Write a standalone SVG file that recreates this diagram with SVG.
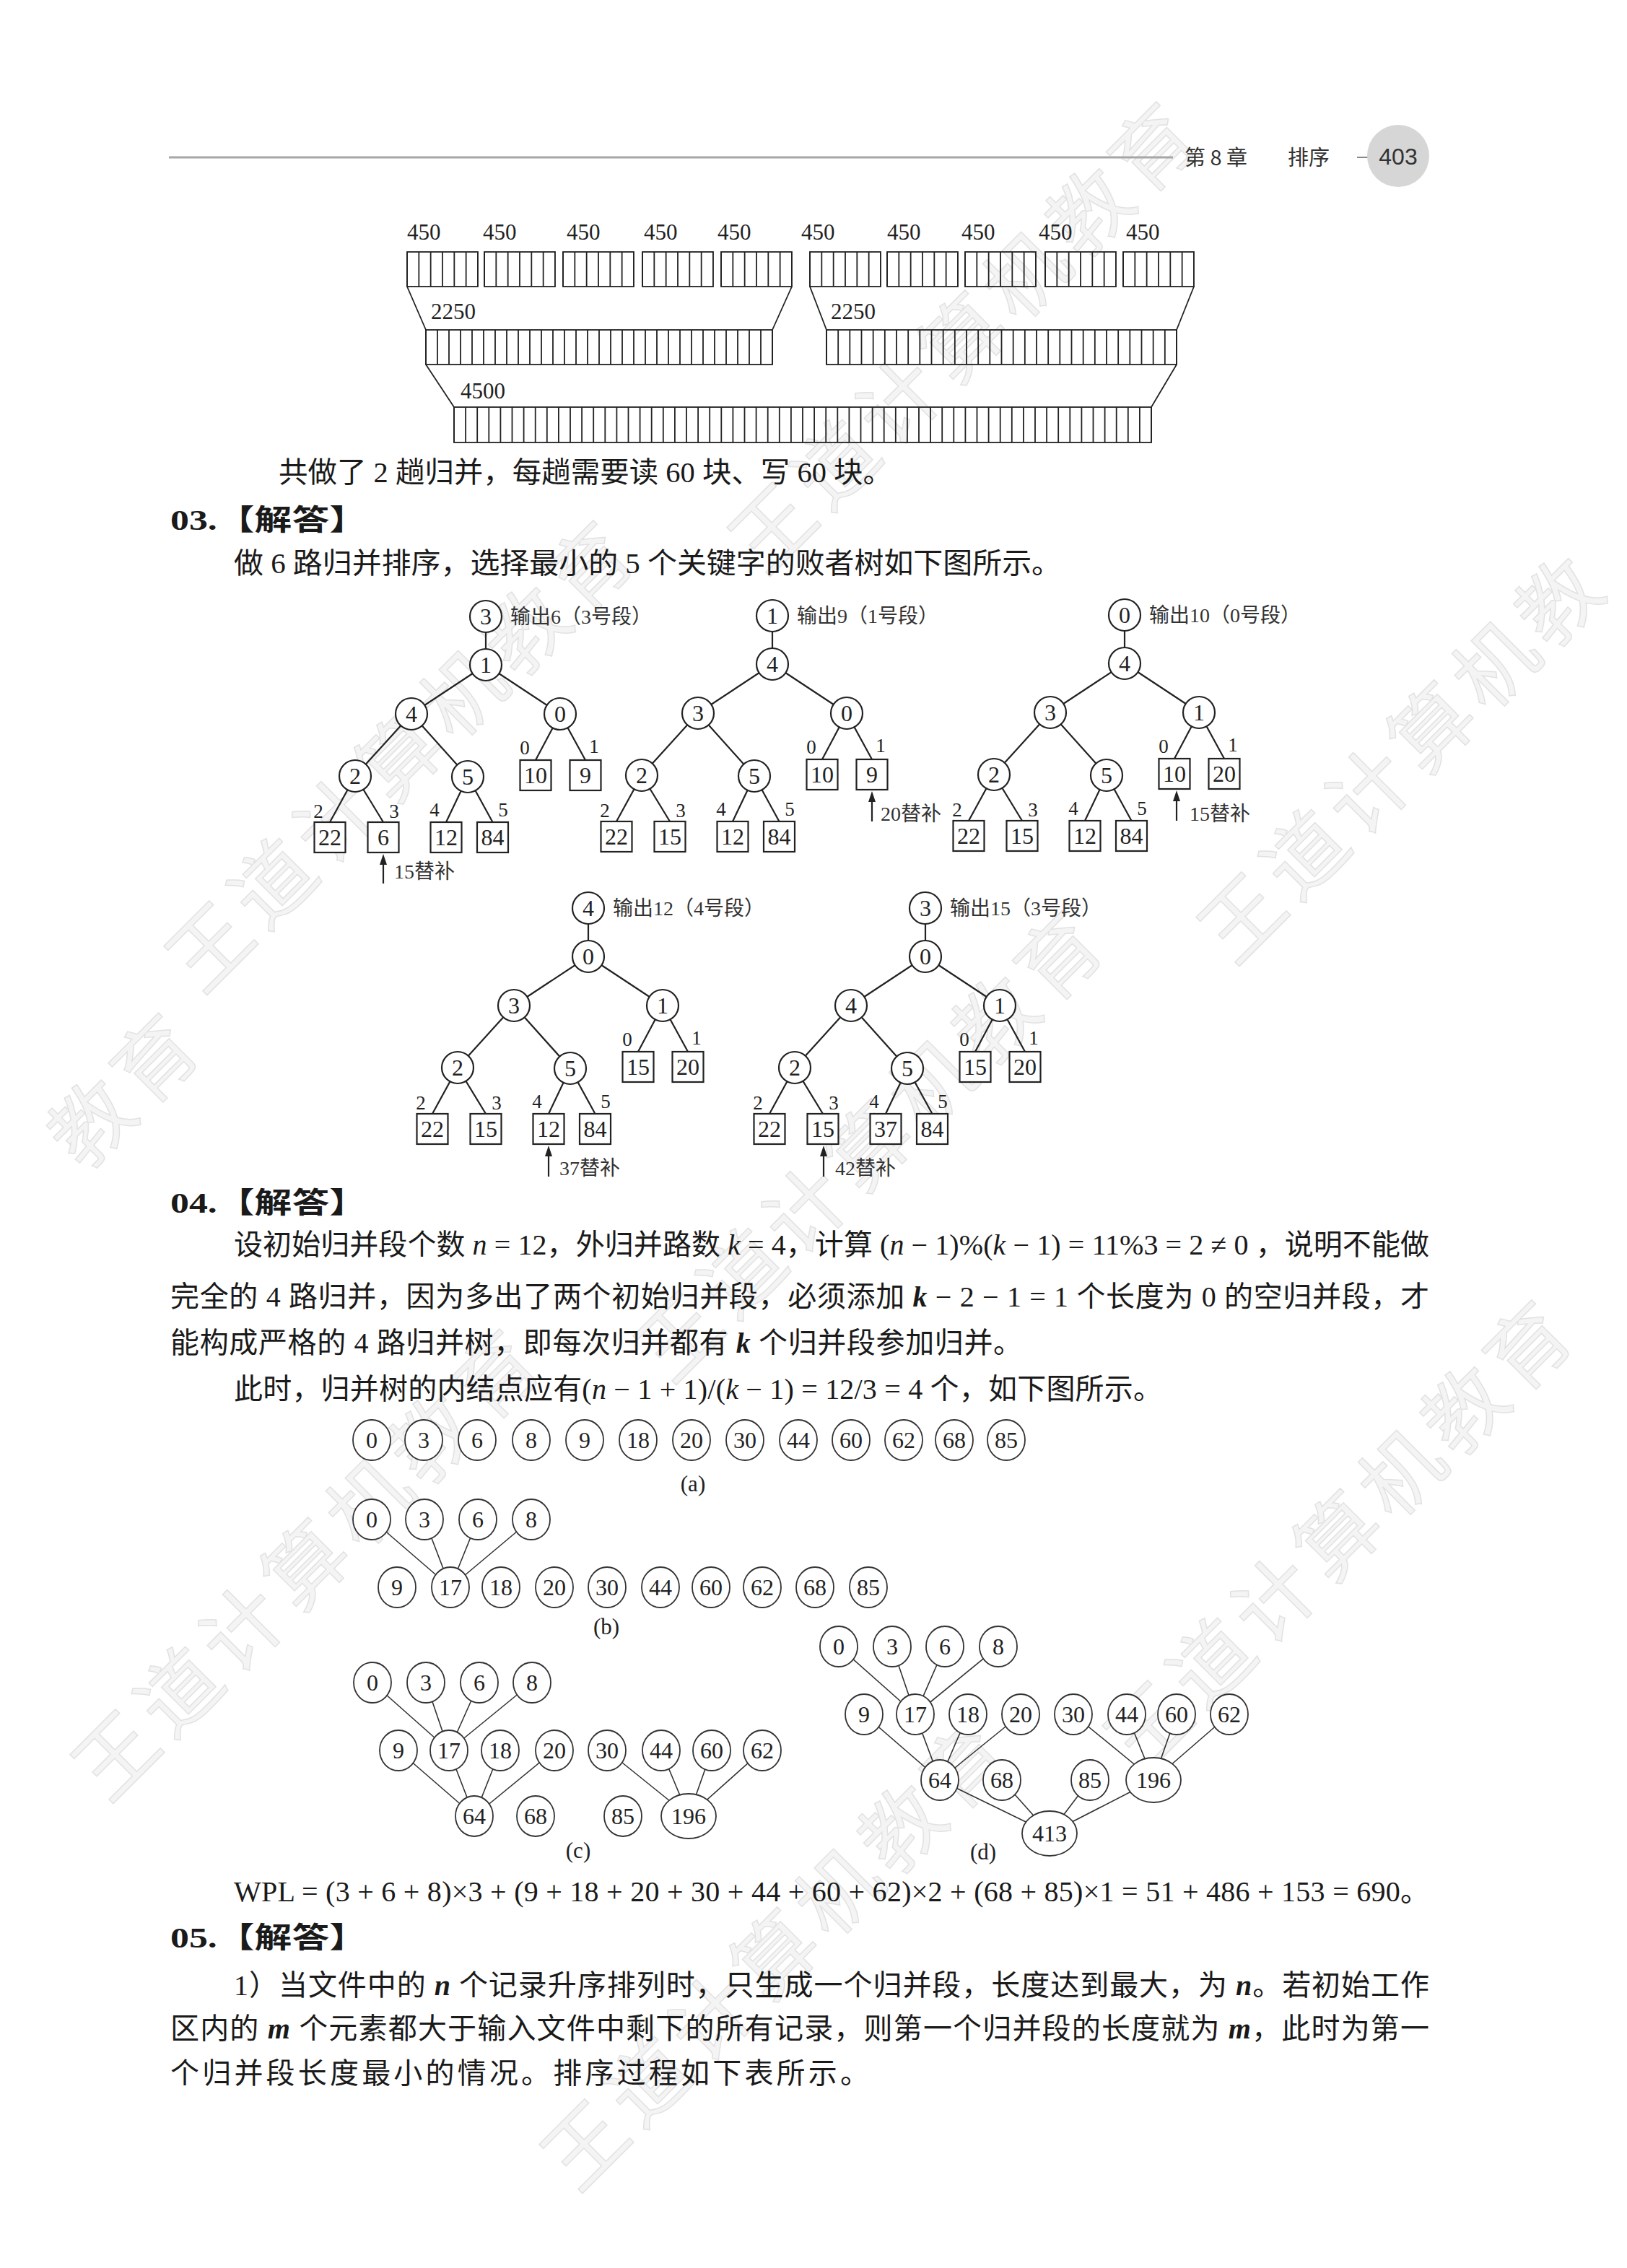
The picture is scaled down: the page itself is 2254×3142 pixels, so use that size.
<svg xmlns="http://www.w3.org/2000/svg" width="2254" height="3142" viewBox="0 0 2254 3142">
<style>
.blk{fill:none;stroke:#222;stroke-width:1.8}
.ln{fill:none;stroke:#222;stroke-width:2.2}
.nd{fill:#fff;stroke:#222;stroke-width:2.2}
.num{font-family:"Liberation Serif",serif;font-size:32px;text-anchor:middle;fill:#222}
.idx{font-family:"Liberation Serif",serif;font-size:27px;text-anchor:middle;fill:#222}
.cap{font-family:"Liberation Serif","Noto Sans CJK SC",serif;font-size:28px;fill:#333}
.lab{font-family:"Liberation Serif",serif;font-size:31px;fill:#222}
.body{font-family:"Liberation Serif","Noto Sans CJK SC",serif;font-size:40px;fill:#1a1a1a}
.hd{font-family:"Noto Sans CJK SC","Liberation Sans",sans-serif;font-size:29px;fill:#333}
.he{fill:none;stroke:#333;stroke-width:1.6}
.hn{fill:#fff;stroke:#333;stroke-width:1.8}
.hv{font-family:"Liberation Serif",serif;font-size:32px;text-anchor:middle;fill:#222}
.it{font-style:italic}
.bi{font-style:italic;font-weight:bold}
.wm{font-family:"Noto Sans CJK SC",sans-serif;font-size:112px;letter-spacing:12px;fill:#f4f4f4;stroke:#e2e2e2;stroke-width:1.5}
</style>
<rect width="2254" height="3142" fill="#fff"/>

<!-- watermarks -->
<g id="watermarks">
<text class="wm" transform="translate(280,1380) rotate(-45)">王道计算机教育</text>
<text class="wm" transform="translate(1060,800) rotate(-45)">王道计算机教育</text>
<text class="wm" transform="translate(930,1920) rotate(-45)">王道计算机教育</text>
<text class="wm" transform="translate(1710,1340) rotate(-45)">王道计算机教</text>
<text class="wm" transform="translate(1580,2460) rotate(-45)">王道计算机教育</text>
<text class="wm" transform="translate(150,2500) rotate(-45)">王道计算机教育</text>
<text class="wm" transform="translate(800,3040) rotate(-45)">王道计算机教育</text>
<text class="wm" transform="translate(116,1624) rotate(-45)">教育</text>
</g>

<!-- header -->
<g id="header">
<line x1="234" y1="218" x2="1625" y2="218" stroke="#a6a6a6" stroke-width="3"/>
<text class="hd" x="1641" y="229">第 8 章</text>
<text class="hd" x="1784" y="229">排序</text>
<line x1="1880" y1="218" x2="1904" y2="218" stroke="#888" stroke-width="2"/>
<circle cx="1937" cy="216" r="43" fill="#d6d6d6"/>
<text x="1937" y="228" text-anchor="middle" font-family="Liberation Sans Narrow,Liberation Sans,sans-serif" font-size="32" fill="#333">403</text>
</g>

<!-- merge block diagram -->
<g id="merge-blocks">
<g>
<text class="lab" x="564" y="332">450</text><text class="lab" x="669" y="332">450</text><text class="lab" x="785" y="332">450</text><text class="lab" x="892" y="332">450</text><text class="lab" x="994" y="332">450</text>
<text class="lab" x="1110" y="332">450</text><text class="lab" x="1229" y="332">450</text><text class="lab" x="1332" y="332">450</text><text class="lab" x="1439" y="332">450</text><text class="lab" x="1560" y="332">450</text>
<text class="lab" x="597" y="442">2250</text><text class="lab" x="1151" y="442">2250</text>
<text class="lab" x="638" y="552">4500</text>
</g>
<g stroke="#222" stroke-width="48" stroke-dasharray="1.8 14.53">
<line x1="563.1" y1="373" x2="662" y2="373"/><line x1="670.1" y1="373" x2="769" y2="373"/><line x1="779.1" y1="373" x2="878" y2="373"/><line x1="889.1" y1="373" x2="988" y2="373"/><line x1="998.1" y1="373" x2="1097" y2="373"/>
<line x1="1121.1" y1="373" x2="1220" y2="373"/><line x1="1228.1" y1="373" x2="1327" y2="373"/><line x1="1336.1" y1="373" x2="1435" y2="373"/><line x1="1447.1" y1="373" x2="1546" y2="373"/><line x1="1555.1" y1="373" x2="1654" y2="373"/>
</g>
<line x1="589.1" y1="481" x2="1071" y2="481" stroke="#222" stroke-width="48" stroke-dasharray="1.8 14.2"/>
<line x1="1144.1" y1="481" x2="1631" y2="481" stroke="#222" stroke-width="48" stroke-dasharray="1.8 14.3667"/>
<line x1="628.1" y1="588.5" x2="1596" y2="588.5" stroke="#222" stroke-width="49" stroke-dasharray="1.8 14.3"/>
<g class="blk">
<rect x="564" y="349" width="98" height="48"/><rect x="671" y="349" width="98" height="48"/><rect x="780" y="349" width="98" height="48"/><rect x="890" y="349" width="98" height="48"/><rect x="999" y="349" width="98" height="48"/>
<rect x="1122" y="349" width="98" height="48"/><rect x="1229" y="349" width="98" height="48"/><rect x="1337" y="349" width="98" height="48"/><rect x="1448" y="349" width="98" height="48"/><rect x="1556" y="349" width="98" height="48"/>
<rect x="590" y="457" width="480" height="48"/><rect x="1145" y="457" width="485" height="48"/>
<rect x="629" y="564" width="966" height="49"/>
<path d="M564,397 L590,457 M1097,397 L1070,457 M1122,397 L1145,457 M1654,397 L1630,457 M590,505 L629,564 M1630,505 L1595,564"/>
</g>
</g>

<!-- body text part 1 -->
<text class="body" x="386" y="668" textLength="850" lengthAdjust="spacingAndGlyphs">共做了 2 趟归并，每趟需要读 60 块、写 60 块。</text>
<text class="body" x="236" y="734" font-weight="bold" textLength="272" lengthAdjust="spacingAndGlyphs">03.【解答】</text>
<text class="body" x="324" y="794" textLength="1146" lengthAdjust="spacingAndGlyphs">做 6 路归并排序，选择最小的 5 个关键字的败者树如下图所示。</text>

<!-- connectors of loser trees and merge trees -->
<g id="connectors">
<g class="ln">
<path transform="translate(673,854)" d="M0,0V67M0,67L-103,135M0,67L103,135M-103,135L-181,221M-103,135L-25,222M103,135L69,199M103,135L138,199M-181,221L-216,285M-181,221L-142,285M-25,222L-55,285M-25,222L9.5,285"/>
<path transform="translate(1070,853)" d="M0,0V67M0,67L-103,135M0,67L103,135M-103,135L-181,221M-103,135L-25,222M103,135L69,199M103,135L138,199M-181,221L-216,285M-181,221L-142,285M-25,222L-55,285M-25,222L9.5,285"/>
<path transform="translate(1558,852)" d="M0,0V67M0,67L-103,135M0,67L103,135M-103,135L-181,221M-103,135L-25,222M103,135L69,199M103,135L138,199M-181,221L-216,285M-181,221L-142,285M-25,222L-55,285M-25,222L9.5,285"/>
<path transform="translate(815,1258)" d="M0,0V67M0,67L-103,135M0,67L103,135M-103,135L-181,221M-103,135L-25,222M103,135L69,199M103,135L138,199M-181,221L-216,285M-181,221L-142,285M-25,222L-55,285M-25,222L9.5,285"/>
<path transform="translate(1282,1258)" d="M0,0V67M0,67L-103,135M0,67L103,135M-103,135L-181,221M-103,135L-25,222M103,135L69,199M103,135L138,199M-181,221L-216,285M-181,221L-142,285M-25,222L-55,285M-25,222L9.5,285"/>
</g>
<g class="he">
<path d="M515,2105L624,2199M588,2105L624,2199M662,2105L624,2199M736,2105L624,2199"/>
<path d="M516,2331L622,2425M590,2331L622,2425M664,2331L622,2425M737,2331L622,2425M552,2425L657,2516M622,2425L657,2516M693,2425L657,2516M768,2425L657,2516M841,2425L954,2516M916,2425L954,2516M986,2425L954,2516M1056,2425L954,2516"/>
<path d="M1162,2281L1268,2375M1236,2281L1268,2375M1309,2281L1268,2375M1383,2281L1268,2375M1197,2375L1302,2466M1268,2375L1302,2466M1341,2375L1302,2466M1414,2375L1302,2466M1487,2375L1598,2466M1561,2375L1598,2466M1630,2375L1598,2466M1703,2375L1598,2466M1302,2466L1454,2540M1388,2466L1454,2540M1510,2466L1454,2540M1598,2466L1454,2540"/>
</g>
</g>

<!-- loser tree 1 -->
<g id="tree1" transform="translate(673,854)">
<g id="t1-n0"><circle class="nd" cx="0" cy="0" r="22"/><text class="num" x="0" y="11">3</text></g>
<g id="t1-n1"><circle class="nd" cx="0" cy="67" r="22"/><text class="num" x="0" y="78">1</text></g>
<g id="t1-n2"><circle class="nd" cx="-103" cy="135" r="22"/><text class="num" x="-103" y="146">4</text></g>
<g id="t1-n3"><circle class="nd" cx="103" cy="135" r="22"/><text class="num" x="103" y="146">0</text></g>
<g id="t1-n4"><circle class="nd" cx="-181" cy="221" r="22"/><text class="num" x="-181" y="232">2</text></g>
<g id="t1-n5"><circle class="nd" cx="-25" cy="222" r="22"/><text class="num" x="-25" y="233">5</text></g>
<g id="t1-s0"><rect class="nd" x="47.5" y="199" width="43" height="42"/><text class="num" x="69" y="231">10</text></g>
<g id="t1-s1"><rect class="nd" x="116.5" y="199" width="43" height="42"/><text class="num" x="138" y="231">9</text></g>
<g id="t1-s2"><rect class="nd" x="-237.5" y="285" width="43" height="42"/><text class="num" x="-216" y="317">22</text></g>
<g id="t1-s3"><rect class="nd" x="-163.5" y="285" width="43" height="42"/><text class="num" x="-142" y="317">6</text></g>
<g id="t1-s4"><rect class="nd" x="-76.5" y="285" width="43" height="42"/><text class="num" x="-55" y="317">12</text></g>
<g id="t1-s5"><rect class="nd" x="-12" y="285" width="43" height="42"/><text class="num" x="9.5" y="317">84</text></g>
<text class="idx" x="54" y="191">0</text><text class="idx" x="150" y="189">1</text><text class="idx" x="-232" y="279">2</text><text class="idx" x="-127" y="279">3</text><text class="idx" x="-71" y="277">4</text><text class="idx" x="24" y="277">5</text>
<text class="cap" x="34" y="10">输出6（3号段）</text>
<line x1="-142" y1="340" x2="-142" y2="370" stroke="#222" stroke-width="2.2"/><polygon points="-142,329 -147,344 -137,344" fill="#222"/>
<text class="cap" x="-127" y="363">15替补</text>
</g>

<!-- loser tree 2 -->
<g id="tree2" transform="translate(1070,853)">
<g id="t2-n0"><circle class="nd" cx="0" cy="0" r="22"/><text class="num" x="0" y="11">1</text></g>
<g id="t2-n1"><circle class="nd" cx="0" cy="67" r="22"/><text class="num" x="0" y="78">4</text></g>
<g id="t2-n2"><circle class="nd" cx="-103" cy="135" r="22"/><text class="num" x="-103" y="146">3</text></g>
<g id="t2-n3"><circle class="nd" cx="103" cy="135" r="22"/><text class="num" x="103" y="146">0</text></g>
<g id="t2-n4"><circle class="nd" cx="-181" cy="221" r="22"/><text class="num" x="-181" y="232">2</text></g>
<g id="t2-n5"><circle class="nd" cx="-25" cy="222" r="22"/><text class="num" x="-25" y="233">5</text></g>
<g id="t2-s0"><rect class="nd" x="47.5" y="199" width="43" height="42"/><text class="num" x="69" y="231">10</text></g>
<g id="t2-s1"><rect class="nd" x="116.5" y="199" width="43" height="42"/><text class="num" x="138" y="231">9</text></g>
<g id="t2-s2"><rect class="nd" x="-237.5" y="285" width="43" height="42"/><text class="num" x="-216" y="317">22</text></g>
<g id="t2-s3"><rect class="nd" x="-163.5" y="285" width="43" height="42"/><text class="num" x="-142" y="317">15</text></g>
<g id="t2-s4"><rect class="nd" x="-76.5" y="285" width="43" height="42"/><text class="num" x="-55" y="317">12</text></g>
<g id="t2-s5"><rect class="nd" x="-12" y="285" width="43" height="42"/><text class="num" x="9.5" y="317">84</text></g>
<text class="idx" x="54" y="191">0</text><text class="idx" x="150" y="189">1</text><text class="idx" x="-232" y="279">2</text><text class="idx" x="-127" y="279">3</text><text class="idx" x="-71" y="277">4</text><text class="idx" x="24" y="277">5</text>
<text class="cap" x="34" y="10">输出9（1号段）</text>
<line x1="138" y1="254" x2="138" y2="285" stroke="#222" stroke-width="2.2"/><polygon points="138,243 133,258 143,258" fill="#222"/>
<text class="cap" x="150" y="284">20替补</text>
</g>

<!-- loser tree 3 -->
<g id="tree3" transform="translate(1558,852)">
<g id="t3-n0"><circle class="nd" cx="0" cy="0" r="22"/><text class="num" x="0" y="11">0</text></g>
<g id="t3-n1"><circle class="nd" cx="0" cy="67" r="22"/><text class="num" x="0" y="78">4</text></g>
<g id="t3-n2"><circle class="nd" cx="-103" cy="135" r="22"/><text class="num" x="-103" y="146">3</text></g>
<g id="t3-n3"><circle class="nd" cx="103" cy="135" r="22"/><text class="num" x="103" y="146">1</text></g>
<g id="t3-n4"><circle class="nd" cx="-181" cy="221" r="22"/><text class="num" x="-181" y="232">2</text></g>
<g id="t3-n5"><circle class="nd" cx="-25" cy="222" r="22"/><text class="num" x="-25" y="233">5</text></g>
<g id="t3-s0"><rect class="nd" x="47.5" y="199" width="43" height="42"/><text class="num" x="69" y="231">10</text></g>
<g id="t3-s1"><rect class="nd" x="116.5" y="199" width="43" height="42"/><text class="num" x="138" y="231">20</text></g>
<g id="t3-s2"><rect class="nd" x="-237.5" y="285" width="43" height="42"/><text class="num" x="-216" y="317">22</text></g>
<g id="t3-s3"><rect class="nd" x="-163.5" y="285" width="43" height="42"/><text class="num" x="-142" y="317">15</text></g>
<g id="t3-s4"><rect class="nd" x="-76.5" y="285" width="43" height="42"/><text class="num" x="-55" y="317">12</text></g>
<g id="t3-s5"><rect class="nd" x="-12" y="285" width="43" height="42"/><text class="num" x="9.5" y="317">84</text></g>
<text class="idx" x="54" y="191">0</text><text class="idx" x="150" y="189">1</text><text class="idx" x="-232" y="279">2</text><text class="idx" x="-127" y="279">3</text><text class="idx" x="-71" y="277">4</text><text class="idx" x="24" y="277">5</text>
<text class="cap" x="34" y="10">输出10（0号段）</text>
<line x1="72" y1="254" x2="72" y2="285" stroke="#222" stroke-width="2.2"/><polygon points="72,243 67,258 77,258" fill="#222"/>
<text class="cap" x="90" y="285">15替补</text>
</g>

<!-- loser tree 4 -->
<g id="tree4" transform="translate(815,1258)">
<g id="t4-n0"><circle class="nd" cx="0" cy="0" r="22"/><text class="num" x="0" y="11">4</text></g>
<g id="t4-n1"><circle class="nd" cx="0" cy="67" r="22"/><text class="num" x="0" y="78">0</text></g>
<g id="t4-n2"><circle class="nd" cx="-103" cy="135" r="22"/><text class="num" x="-103" y="146">3</text></g>
<g id="t4-n3"><circle class="nd" cx="103" cy="135" r="22"/><text class="num" x="103" y="146">1</text></g>
<g id="t4-n4"><circle class="nd" cx="-181" cy="221" r="22"/><text class="num" x="-181" y="232">2</text></g>
<g id="t4-n5"><circle class="nd" cx="-25" cy="222" r="22"/><text class="num" x="-25" y="233">5</text></g>
<g id="t4-s0"><rect class="nd" x="47.5" y="199" width="43" height="42"/><text class="num" x="69" y="231">15</text></g>
<g id="t4-s1"><rect class="nd" x="116.5" y="199" width="43" height="42"/><text class="num" x="138" y="231">20</text></g>
<g id="t4-s2"><rect class="nd" x="-237.5" y="285" width="43" height="42"/><text class="num" x="-216" y="317">22</text></g>
<g id="t4-s3"><rect class="nd" x="-163.5" y="285" width="43" height="42"/><text class="num" x="-142" y="317">15</text></g>
<g id="t4-s4"><rect class="nd" x="-76.5" y="285" width="43" height="42"/><text class="num" x="-55" y="317">12</text></g>
<g id="t4-s5"><rect class="nd" x="-12" y="285" width="43" height="42"/><text class="num" x="9.5" y="317">84</text></g>
<text class="idx" x="54" y="191">0</text><text class="idx" x="150" y="189">1</text><text class="idx" x="-232" y="279">2</text><text class="idx" x="-127" y="279">3</text><text class="idx" x="-71" y="277">4</text><text class="idx" x="24" y="277">5</text>
<text class="cap" x="34" y="10">输出12（4号段）</text>
<line x1="-55" y1="340" x2="-55" y2="372" stroke="#222" stroke-width="2.2"/><polygon points="-55,329 -60,344 -50,344" fill="#222"/>
<text class="cap" x="-40" y="370">37替补</text>
</g>

<!-- loser tree 5 -->
<g id="tree5" transform="translate(1282,1258)">
<g id="t5-n0"><circle class="nd" cx="0" cy="0" r="22"/><text class="num" x="0" y="11">3</text></g>
<g id="t5-n1"><circle class="nd" cx="0" cy="67" r="22"/><text class="num" x="0" y="78">0</text></g>
<g id="t5-n2"><circle class="nd" cx="-103" cy="135" r="22"/><text class="num" x="-103" y="146">4</text></g>
<g id="t5-n3"><circle class="nd" cx="103" cy="135" r="22"/><text class="num" x="103" y="146">1</text></g>
<g id="t5-n4"><circle class="nd" cx="-181" cy="221" r="22"/><text class="num" x="-181" y="232">2</text></g>
<g id="t5-n5"><circle class="nd" cx="-25" cy="222" r="22"/><text class="num" x="-25" y="233">5</text></g>
<g id="t5-s0"><rect class="nd" x="47.5" y="199" width="43" height="42"/><text class="num" x="69" y="231">15</text></g>
<g id="t5-s1"><rect class="nd" x="116.5" y="199" width="43" height="42"/><text class="num" x="138" y="231">20</text></g>
<g id="t5-s2"><rect class="nd" x="-237.5" y="285" width="43" height="42"/><text class="num" x="-216" y="317">22</text></g>
<g id="t5-s3"><rect class="nd" x="-163.5" y="285" width="43" height="42"/><text class="num" x="-142" y="317">15</text></g>
<g id="t5-s4"><rect class="nd" x="-76.5" y="285" width="43" height="42"/><text class="num" x="-55" y="317">37</text></g>
<g id="t5-s5"><rect class="nd" x="-12" y="285" width="43" height="42"/><text class="num" x="9.5" y="317">84</text></g>
<text class="idx" x="54" y="191">0</text><text class="idx" x="150" y="189">1</text><text class="idx" x="-232" y="279">2</text><text class="idx" x="-127" y="279">3</text><text class="idx" x="-71" y="277">4</text><text class="idx" x="24" y="277">5</text>
<text class="cap" x="34" y="10">输出15（3号段）</text>
<line x1="-141" y1="340" x2="-141" y2="372" stroke="#222" stroke-width="2.2"/><polygon points="-141,329 -146,344 -136,344" fill="#222"/>
<text class="cap" x="-125" y="370">42替补</text>
</g>

<!-- body text part 2 -->
<text class="body" x="236" y="1680" font-weight="bold" textLength="272" lengthAdjust="spacingAndGlyphs">04.【解答】</text>
<text class="body" x="324" y="1738" textLength="1656" lengthAdjust="spacing">设初始归并段个数 <tspan class="it">n</tspan> = 12，外归并路数 <tspan class="it">k</tspan> = 4，计算 (<tspan class="it">n</tspan> − 1)%(<tspan class="it">k</tspan> − 1) = 11%3 = 2 ≠ 0 ，说明不能做</text>
<text class="body" x="236" y="1810" textLength="1744" lengthAdjust="spacing">完全的 4 路归并，因为多出了两个初始归并段，必须添加 <tspan class="bi">k</tspan> − 2 − 1 = 1 个长度为 0 的空归并段，才</text>
<text class="body" x="236" y="1874" textLength="1180" lengthAdjust="spacing">能构成严格的 4 路归并树，即每次归并都有 <tspan class="bi">k</tspan> 个归并段参加归并。</text>
<text class="body" x="324" y="1938" textLength="1286" lengthAdjust="spacing">此时，归并树的内结点应有(<tspan class="it">n</tspan> − 1 + 1)/(<tspan class="it">k</tspan> − 1) = 12/3 = 4 个，如下图所示。</text>

<!-- (a) -->
<g id="fig-a">
<g id="a0"><ellipse class="hn" cx="515" cy="1995" rx="26" ry="28"/><text class="hv" x="515" y="2006">0</text></g>
<g id="a3"><ellipse class="hn" cx="587" cy="1995" rx="26" ry="28"/><text class="hv" x="587" y="2006">3</text></g>
<g id="a6"><ellipse class="hn" cx="661" cy="1995" rx="26" ry="28"/><text class="hv" x="661" y="2006">6</text></g>
<g id="a8"><ellipse class="hn" cx="736" cy="1995" rx="26" ry="28"/><text class="hv" x="736" y="2006">8</text></g>
<g id="a9"><ellipse class="hn" cx="810" cy="1995" rx="26" ry="28"/><text class="hv" x="810" y="2006">9</text></g>
<g id="a18"><ellipse class="hn" cx="884" cy="1995" rx="26" ry="28"/><text class="hv" x="884" y="2006">18</text></g>
<g id="a20"><ellipse class="hn" cx="958" cy="1995" rx="26" ry="28"/><text class="hv" x="958" y="2006">20</text></g>
<g id="a30"><ellipse class="hn" cx="1032" cy="1995" rx="26" ry="28"/><text class="hv" x="1032" y="2006">30</text></g>
<g id="a44"><ellipse class="hn" cx="1106" cy="1995" rx="26" ry="28"/><text class="hv" x="1106" y="2006">44</text></g>
<g id="a60"><ellipse class="hn" cx="1179" cy="1995" rx="26" ry="28"/><text class="hv" x="1179" y="2006">60</text></g>
<g id="a62"><ellipse class="hn" cx="1252" cy="1995" rx="26" ry="28"/><text class="hv" x="1252" y="2006">62</text></g>
<g id="a68"><ellipse class="hn" cx="1322" cy="1995" rx="26" ry="28"/><text class="hv" x="1322" y="2006">68</text></g>
<g id="a85"><ellipse class="hn" cx="1394" cy="1995" rx="26" ry="28"/><text class="hv" x="1394" y="2006">85</text></g>
<text class="lab" x="960" y="2066" text-anchor="middle" font-size="28">(a)</text>
</g>

<!-- (b) -->
<g id="fig-b">
<g id="b0"><ellipse class="hn" cx="515" cy="2105" rx="26" ry="28"/><text class="hv" x="515" y="2116">0</text></g>
<g id="b3"><ellipse class="hn" cx="588" cy="2105" rx="26" ry="28"/><text class="hv" x="588" y="2116">3</text></g>
<g id="b6"><ellipse class="hn" cx="662" cy="2105" rx="26" ry="28"/><text class="hv" x="662" y="2116">6</text></g>
<g id="b8"><ellipse class="hn" cx="736" cy="2105" rx="26" ry="28"/><text class="hv" x="736" y="2116">8</text></g>
<g id="b9"><ellipse class="hn" cx="550" cy="2199" rx="26" ry="28"/><text class="hv" x="550" y="2210">9</text></g>
<g id="b17"><ellipse class="hn" cx="624" cy="2199" rx="26" ry="28"/><text class="hv" x="624" y="2210">17</text></g>
<g id="b18"><ellipse class="hn" cx="694" cy="2199" rx="26" ry="28"/><text class="hv" x="694" y="2210">18</text></g>
<g id="b20"><ellipse class="hn" cx="768" cy="2199" rx="26" ry="28"/><text class="hv" x="768" y="2210">20</text></g>
<g id="b30"><ellipse class="hn" cx="841" cy="2199" rx="26" ry="28"/><text class="hv" x="841" y="2210">30</text></g>
<g id="b44"><ellipse class="hn" cx="915" cy="2199" rx="26" ry="28"/><text class="hv" x="915" y="2210">44</text></g>
<g id="b60"><ellipse class="hn" cx="985" cy="2199" rx="26" ry="28"/><text class="hv" x="985" y="2210">60</text></g>
<g id="b62"><ellipse class="hn" cx="1056" cy="2199" rx="26" ry="28"/><text class="hv" x="1056" y="2210">62</text></g>
<g id="b68"><ellipse class="hn" cx="1129" cy="2199" rx="26" ry="28"/><text class="hv" x="1129" y="2210">68</text></g>
<g id="b85"><ellipse class="hn" cx="1203" cy="2199" rx="26" ry="28"/><text class="hv" x="1203" y="2210">85</text></g>
<text class="lab" x="840" y="2264" text-anchor="middle" font-size="28">(b)</text>
</g>

<!-- (c) -->
<g id="fig-c">
<g id="c0"><ellipse class="hn" cx="516" cy="2331" rx="26" ry="28"/><text class="hv" x="516" y="2342">0</text></g>
<g id="c3"><ellipse class="hn" cx="590" cy="2331" rx="26" ry="28"/><text class="hv" x="590" y="2342">3</text></g>
<g id="c6"><ellipse class="hn" cx="664" cy="2331" rx="26" ry="28"/><text class="hv" x="664" y="2342">6</text></g>
<g id="c8"><ellipse class="hn" cx="737" cy="2331" rx="26" ry="28"/><text class="hv" x="737" y="2342">8</text></g>
<g id="c9"><ellipse class="hn" cx="552" cy="2425" rx="26" ry="28"/><text class="hv" x="552" y="2436">9</text></g>
<g id="c17"><ellipse class="hn" cx="622" cy="2425" rx="26" ry="28"/><text class="hv" x="622" y="2436">17</text></g>
<g id="c18"><ellipse class="hn" cx="693" cy="2425" rx="26" ry="28"/><text class="hv" x="693" y="2436">18</text></g>
<g id="c20"><ellipse class="hn" cx="768" cy="2425" rx="26" ry="28"/><text class="hv" x="768" y="2436">20</text></g>
<g id="c30"><ellipse class="hn" cx="841" cy="2425" rx="26" ry="28"/><text class="hv" x="841" y="2436">30</text></g>
<g id="c44"><ellipse class="hn" cx="916" cy="2425" rx="26" ry="28"/><text class="hv" x="916" y="2436">44</text></g>
<g id="c60"><ellipse class="hn" cx="986" cy="2425" rx="26" ry="28"/><text class="hv" x="986" y="2436">60</text></g>
<g id="c62"><ellipse class="hn" cx="1056" cy="2425" rx="26" ry="28"/><text class="hv" x="1056" y="2436">62</text></g>
<g id="c64"><ellipse class="hn" cx="657" cy="2516" rx="26" ry="28"/><text class="hv" x="657" y="2527">64</text></g>
<g id="c68"><ellipse class="hn" cx="742" cy="2516" rx="26" ry="28"/><text class="hv" x="742" y="2527">68</text></g>
<g id="c85"><ellipse class="hn" cx="863" cy="2516" rx="26" ry="28"/><text class="hv" x="863" y="2527">85</text></g>
<g id="c196"><ellipse class="hn" cx="954" cy="2516" rx="38" ry="31"/><text class="hv" x="954" y="2527">196</text></g>
<text class="lab" x="801" y="2574" text-anchor="middle" font-size="28">(c)</text>
</g>

<!-- (d) -->
<g id="fig-d">
<g id="d0"><ellipse class="hn" cx="1162" cy="2281" rx="26" ry="28"/><text class="hv" x="1162" y="2292">0</text></g>
<g id="d3"><ellipse class="hn" cx="1236" cy="2281" rx="26" ry="28"/><text class="hv" x="1236" y="2292">3</text></g>
<g id="d6"><ellipse class="hn" cx="1309" cy="2281" rx="26" ry="28"/><text class="hv" x="1309" y="2292">6</text></g>
<g id="d8"><ellipse class="hn" cx="1383" cy="2281" rx="26" ry="28"/><text class="hv" x="1383" y="2292">8</text></g>
<g id="d9"><ellipse class="hn" cx="1197" cy="2375" rx="26" ry="28"/><text class="hv" x="1197" y="2386">9</text></g>
<g id="d17"><ellipse class="hn" cx="1268" cy="2375" rx="26" ry="28"/><text class="hv" x="1268" y="2386">17</text></g>
<g id="d18"><ellipse class="hn" cx="1341" cy="2375" rx="26" ry="28"/><text class="hv" x="1341" y="2386">18</text></g>
<g id="d20"><ellipse class="hn" cx="1414" cy="2375" rx="26" ry="28"/><text class="hv" x="1414" y="2386">20</text></g>
<g id="d30"><ellipse class="hn" cx="1487" cy="2375" rx="26" ry="28"/><text class="hv" x="1487" y="2386">30</text></g>
<g id="d44"><ellipse class="hn" cx="1561" cy="2375" rx="26" ry="28"/><text class="hv" x="1561" y="2386">44</text></g>
<g id="d60"><ellipse class="hn" cx="1630" cy="2375" rx="26" ry="28"/><text class="hv" x="1630" y="2386">60</text></g>
<g id="d62"><ellipse class="hn" cx="1703" cy="2375" rx="26" ry="28"/><text class="hv" x="1703" y="2386">62</text></g>
<g id="d64"><ellipse class="hn" cx="1302" cy="2466" rx="26" ry="28"/><text class="hv" x="1302" y="2477">64</text></g>
<g id="d68"><ellipse class="hn" cx="1388" cy="2466" rx="26" ry="28"/><text class="hv" x="1388" y="2477">68</text></g>
<g id="d85"><ellipse class="hn" cx="1510" cy="2466" rx="26" ry="28"/><text class="hv" x="1510" y="2477">85</text></g>
<g id="d196"><ellipse class="hn" cx="1598" cy="2466" rx="38" ry="31"/><text class="hv" x="1598" y="2477">196</text></g>
<g id="d413"><ellipse class="hn" cx="1454" cy="2540" rx="38" ry="31"/><text class="hv" x="1454" y="2551">413</text></g>
<text class="lab" x="1362" y="2576" text-anchor="middle" font-size="28">(d)</text>
</g>

<!-- body text part 3 -->
<text class="body" x="324" y="2634" textLength="1656" lengthAdjust="spacing">WPL = (3 + 6 + 8)×3 + (9 + 18 + 20 + 30 + 44 + 60 + 62)×2 + (68 + 85)×1 = 51 + 486 + 153 = 690。</text>
<text class="body" x="236" y="2698" font-weight="bold" textLength="272" lengthAdjust="spacingAndGlyphs">05.【解答】</text>
<text class="body" x="324" y="2764" textLength="1656" lengthAdjust="spacing">1）当文件中的 <tspan class="bi">n</tspan> 个记录升序排列时，只生成一个归并段，长度达到最大，为 <tspan class="bi">n</tspan>。若初始工作</text>
<text class="body" x="236" y="2824" textLength="1744" lengthAdjust="spacing">区内的 <tspan class="bi">m</tspan> 个元素都大于输入文件中剩下的所有记录，则第一个归并段的长度就为 <tspan class="bi">m</tspan>，此时为第一</text>
<text class="body" x="236" y="2886" textLength="968" lengthAdjust="spacing">个归并段长度最小的情况。排序过程如下表所示。</text>
</svg>
